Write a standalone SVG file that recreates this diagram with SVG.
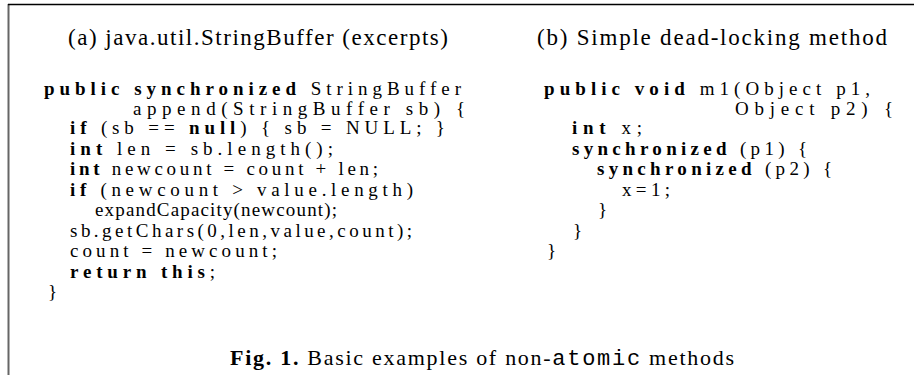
<svg xmlns="http://www.w3.org/2000/svg" width="914" height="375" viewBox="0 0 914 375">
<style>
text{font-family:"Liberation Serif","DejaVu Serif",serif;fill:#000;}
.t{font-size:23px;}
.c{font-size:19px;}
.k{font-weight:bold;}
.m{font-family:"Liberation Mono","DejaVu Sans Mono",monospace;}
</style>
<rect width="914" height="375" fill="#fff"/>
<g id="frame">
<line x1="8.5" y1="4" x2="8.5" y2="375" stroke="#666" stroke-width="2"/>
<line x1="8" y1="4.5" x2="914" y2="4.5" stroke="#000" stroke-width="1.5"/>
</g>
<g id="panel-a">
<text class="t" x="68" y="45" textLength="380" lengthAdjust="spacing">(a) java.util.StringBuffer (excerpts)</text>
<text class="c" x="44" y="95" textLength="417" lengthAdjust="spacing" xml:space="preserve"><tspan class="k">public synchronized</tspan> StringBuffer</text>
<text class="c" x="133" y="115" textLength="332" lengthAdjust="spacing">append(StringBuffer sb) {</text>
<text class="c" x="70" y="134" textLength="375" lengthAdjust="spacing" xml:space="preserve"><tspan class="k">if</tspan> (sb == <tspan class="k">null</tspan>) { sb = NULL; }</text>
<text class="c" x="70" y="154.5" textLength="263" lengthAdjust="spacing" xml:space="preserve"><tspan class="k">int</tspan> len = sb.length();</text>
<text class="c" x="70" y="175" textLength="308" lengthAdjust="spacing" xml:space="preserve"><tspan class="k">int</tspan> newcount = count + len;</text>
<text class="c" x="70" y="195.5" textLength="343" lengthAdjust="spacing" xml:space="preserve"><tspan class="k">if</tspan> (newcount &gt; value.length)</text>
<text class="c" x="95" y="216" textLength="242" lengthAdjust="spacing">expandCapacity(newcount);</text>
<text class="c" x="70" y="236.5" textLength="342" lengthAdjust="spacing">sb.getChars(0,len,value,count);</text>
<text class="c" x="70" y="257" textLength="207" lengthAdjust="spacing">count = newcount;</text>
<text class="c" x="70" y="277.5" textLength="145" lengthAdjust="spacing" xml:space="preserve"><tspan class="k">return this</tspan>;</text>
<text class="c" x="48" y="298">}</text>
</g>
<g id="panel-b">
<text class="t" x="537" y="45" textLength="350" lengthAdjust="spacing">(b) Simple dead-locking method</text>
<text class="c" x="544" y="95" textLength="326" lengthAdjust="spacing" xml:space="preserve"><tspan class="k">public void</tspan> m1(Object p1,</text>
<text class="c" x="735" y="115" textLength="158" lengthAdjust="spacing">Object p2) {</text>
<text class="c" x="572" y="134" textLength="70" lengthAdjust="spacing" xml:space="preserve"><tspan class="k">int</tspan> x;</text>
<text class="c" x="572" y="154.5" textLength="235" lengthAdjust="spacing" xml:space="preserve"><tspan class="k">synchronized</tspan> (p1) {</text>
<text class="c" x="597" y="175" textLength="235" lengthAdjust="spacing" xml:space="preserve"><tspan class="k">synchronized</tspan> (p2) {</text>
<text class="c" x="622" y="195.5" textLength="48" lengthAdjust="spacing">x=1;</text>
<text class="c" x="598" y="216">}</text>
<text class="c" x="573" y="236.5">}</text>
<text class="c" x="547" y="257">}</text>
</g>
<g id="caption">
<text x="230" y="365" font-size="22" textLength="504" lengthAdjust="spacing" xml:space="preserve"><tspan class="k">Fig. 1.</tspan> Basic examples of non-<tspan class="m">atomic</tspan> methods</text>
</g>
</svg>
